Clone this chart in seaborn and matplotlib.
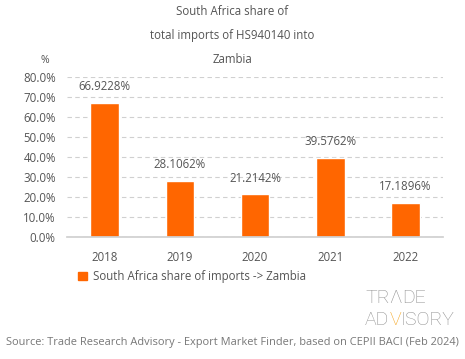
import matplotlib
matplotlib.use("Agg")
import matplotlib.pyplot as plt
import seaborn as sns
from matplotlib.patches import Patch
from matplotlib.ticker import FuncFormatter

# === Data ===
years = ["2018", "2019", "2020", "2021", "2022"]
share = [66.9228, 28.1062, 21.2142, 39.5762, 17.1896]
series_name = "South Africa share of imports -> Zambia"
title = "South Africa share of\ntotal imports of HS940140 into\nZambia"
source = "Source: Trade Research Advisory - Export Market Finder, based on CEPII BACI (Feb 2024)"

orange = "#FF6600"
grey = "#555555"

sns.set_theme(style="white")
plt.rcParams["font.family"] = ["Open Sans", "DejaVu Sans"]

fig = plt.figure(figsize=(4.65, 3.59), dpi=100)
ax = fig.add_axes([0.144, 0.340, 0.809, 0.446])

sns.barplot(x=years, y=share, color=orange, width=0.38, saturation=1, ax=ax)

ax.set_ylim(0, 80)
ax.set_yticks(range(0, 81, 10))
ax.yaxis.set_major_formatter(FuncFormatter(lambda v, _: f"{v:.1f}%"))
ax.grid(axis="y", color="#d0d0d0", linestyle=(0, (4, 3)), linewidth=0.8)
ax.set_axisbelow(True)
for side in ["top", "right", "left"]:
    ax.spines[side].set_visible(False)
ax.spines["bottom"].set_color("#d0d0d0")
ax.tick_params(axis="both", colors=grey, labelsize=8.3, length=0, pad=8)
ax.tick_params(axis="x", pad=10)

ax.bar_label(ax.containers[0], labels=[f"{v:.4f}%" for v in share],
             padding=7, fontsize=8.3, color=grey)

fig.text(0.5, 0.900, title, ha="center", va="center", fontsize=8.3,
         color=grey, linespacing=2.1)
fig.text(0.097, 0.832, "%", ha="center", va="center", fontsize=7.5, color=grey)

fig.legend(handles=[Patch(color=orange, label=series_name)],
           loc="center left", bbox_to_anchor=(0.145, 0.230), frameon=False,
           fontsize=8.3, handlelength=0.8, handleheight=0.8, handletextpad=0.5,
           labelcolor=grey)

# logo, pieces laid out one after another
logo_grey = "#8f8f8f"
logo_orange = "#F5A623"
fig.canvas.draw()
renderer = fig.canvas.get_renderer()


def logo_line(pieces, x0, y):
    x = x0
    for txt, col in pieces:
        t = fig.text(x, y, txt, fontsize=14, color=col, ha="left", va="center",
                     family="Roboto", fontweight="light")
        bb = t.get_window_extent(renderer=renderer)
        x += bb.width / fig.bbox.width


logo_line([("TR", logo_grey), ("Λ", logo_grey), ("DE", logo_grey)], 0.785, 0.170)
logo_line([("AD", logo_grey), ("V", logo_orange), ("ISORY", logo_grey)], 0.785, 0.108)

fig.text(0.5, 0.045, source, ha="center", va="center", fontsize=7.9, color="#777777")

fig.savefig("out.png", dpi=100)
